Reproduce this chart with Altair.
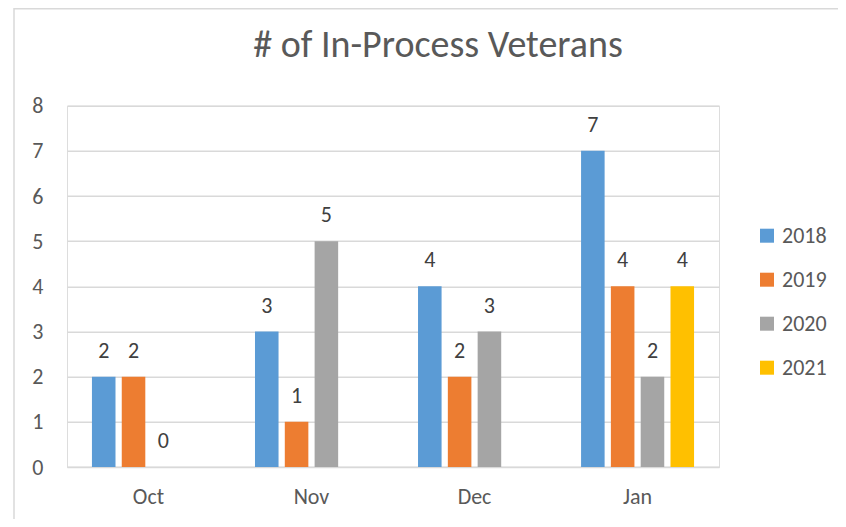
import altair as alt
import pandas as pd

months = ["Oct", "Nov", "Dec", "Jan"]
years = ["2018", "2019", "2020", "2021"]
colors = ["#5B9BD5", "#ED7D31", "#A5A5A5", "#FFC000"]
vals_2018 = [2, 3, 4, 7]
vals_2019 = [2, 1, 2, 4]
vals_2020 = [0, 5, 3, 2]
vals_2021 = [None, None, None, 4]
y_ticks = [0, 1, 2, 3, 4, 5, 6, 7, 8]

rows = []
for y, vs in zip(years, [vals_2018, vals_2019, vals_2020, vals_2021]):
    for m, v in zip(months, vs):
        if v is not None:
            rows.append({"month": m, "year": y, "value": v})
df = pd.DataFrame(rows)

FONT = "Carlito, Calibri, Lato, sans-serif"
LBL = 22

x_enc = alt.X("month:N", sort=months, title=None,
              scale=alt.Scale(paddingInner=0.307, paddingOuter=0.153),
              axis=alt.Axis(labelAngle=0, ticks=False, domainColor="#D9D9D9",
                            domainWidth=1.5, labelPadding=19, labelFontSize=LBL,
                            labelColor="#595959", labelFont=FONT))
xo_enc = alt.XOffset("year:N", sort=years,
                     scale=alt.Scale(paddingInner=0.21, paddingOuter=0))
y_enc = alt.Y("value:Q", title=None,
              scale=alt.Scale(domain=[0, 8], nice=False),
              axis=alt.Axis(values=y_ticks, domain=False, ticks=False,
                            labelOverlap=False,
                            gridColor="#D9D9D9", gridWidth=1.5, labelPadding=24,
                            labelFontSize=LBL, labelColor="#595959", labelFont=FONT))

base = alt.Chart(df)

bars = base.mark_bar().encode(
    x=x_enc,
    xOffset=xo_enc,
    y=y_enc,
    color=alt.Color("year:N", sort=years,
                    scale=alt.Scale(domain=years, range=colors),
                    legend=alt.Legend(title=None, orient="none", legendX=689, legendY=119,
                                      symbolType="square", symbolSize=196,
                                      symbolStrokeWidth=0, labelFontSize=LBL,
                                      labelColor="#595959", labelFont=FONT,
                                      labelOffset=4, rowPadding=22)),
)

labels = base.mark_text(baseline="alphabetic", dy=-19, fontSize=LBL,
                        color="#404040", font=FONT).encode(
    x=x_enc,
    xOffset=xo_enc,
    y=y_enc,
    text="value:Q",
)

frame = alt.Chart(pd.DataFrame({"a": [0]})).mark_rect(
    filled=False, stroke="#D9D9D9", strokeWidth=1.5
).encode(
    x=alt.value(-53), x2=alt.value(900), y=alt.value(-97), y2=alt.value(600)
)

chart = alt.layer(frame, bars, labels).properties(
    width=652,
    height=361.3,
    padding={"left": 59, "top": 97.7, "right": 119, "bottom": 52},
    autosize=alt.AutoSizeParams(type="none"),
    title=alt.TitleParams("# of In-Process Veterans", fontSize=38, font=FONT,
                          color="#595959", fontWeight="normal", dx=45,
                          baseline="alphabetic", offset=-87),
).configure_view(stroke=None).configure(background="white")

chart.save("out.html", embed_options={"renderer": "svg", "actions": False})
